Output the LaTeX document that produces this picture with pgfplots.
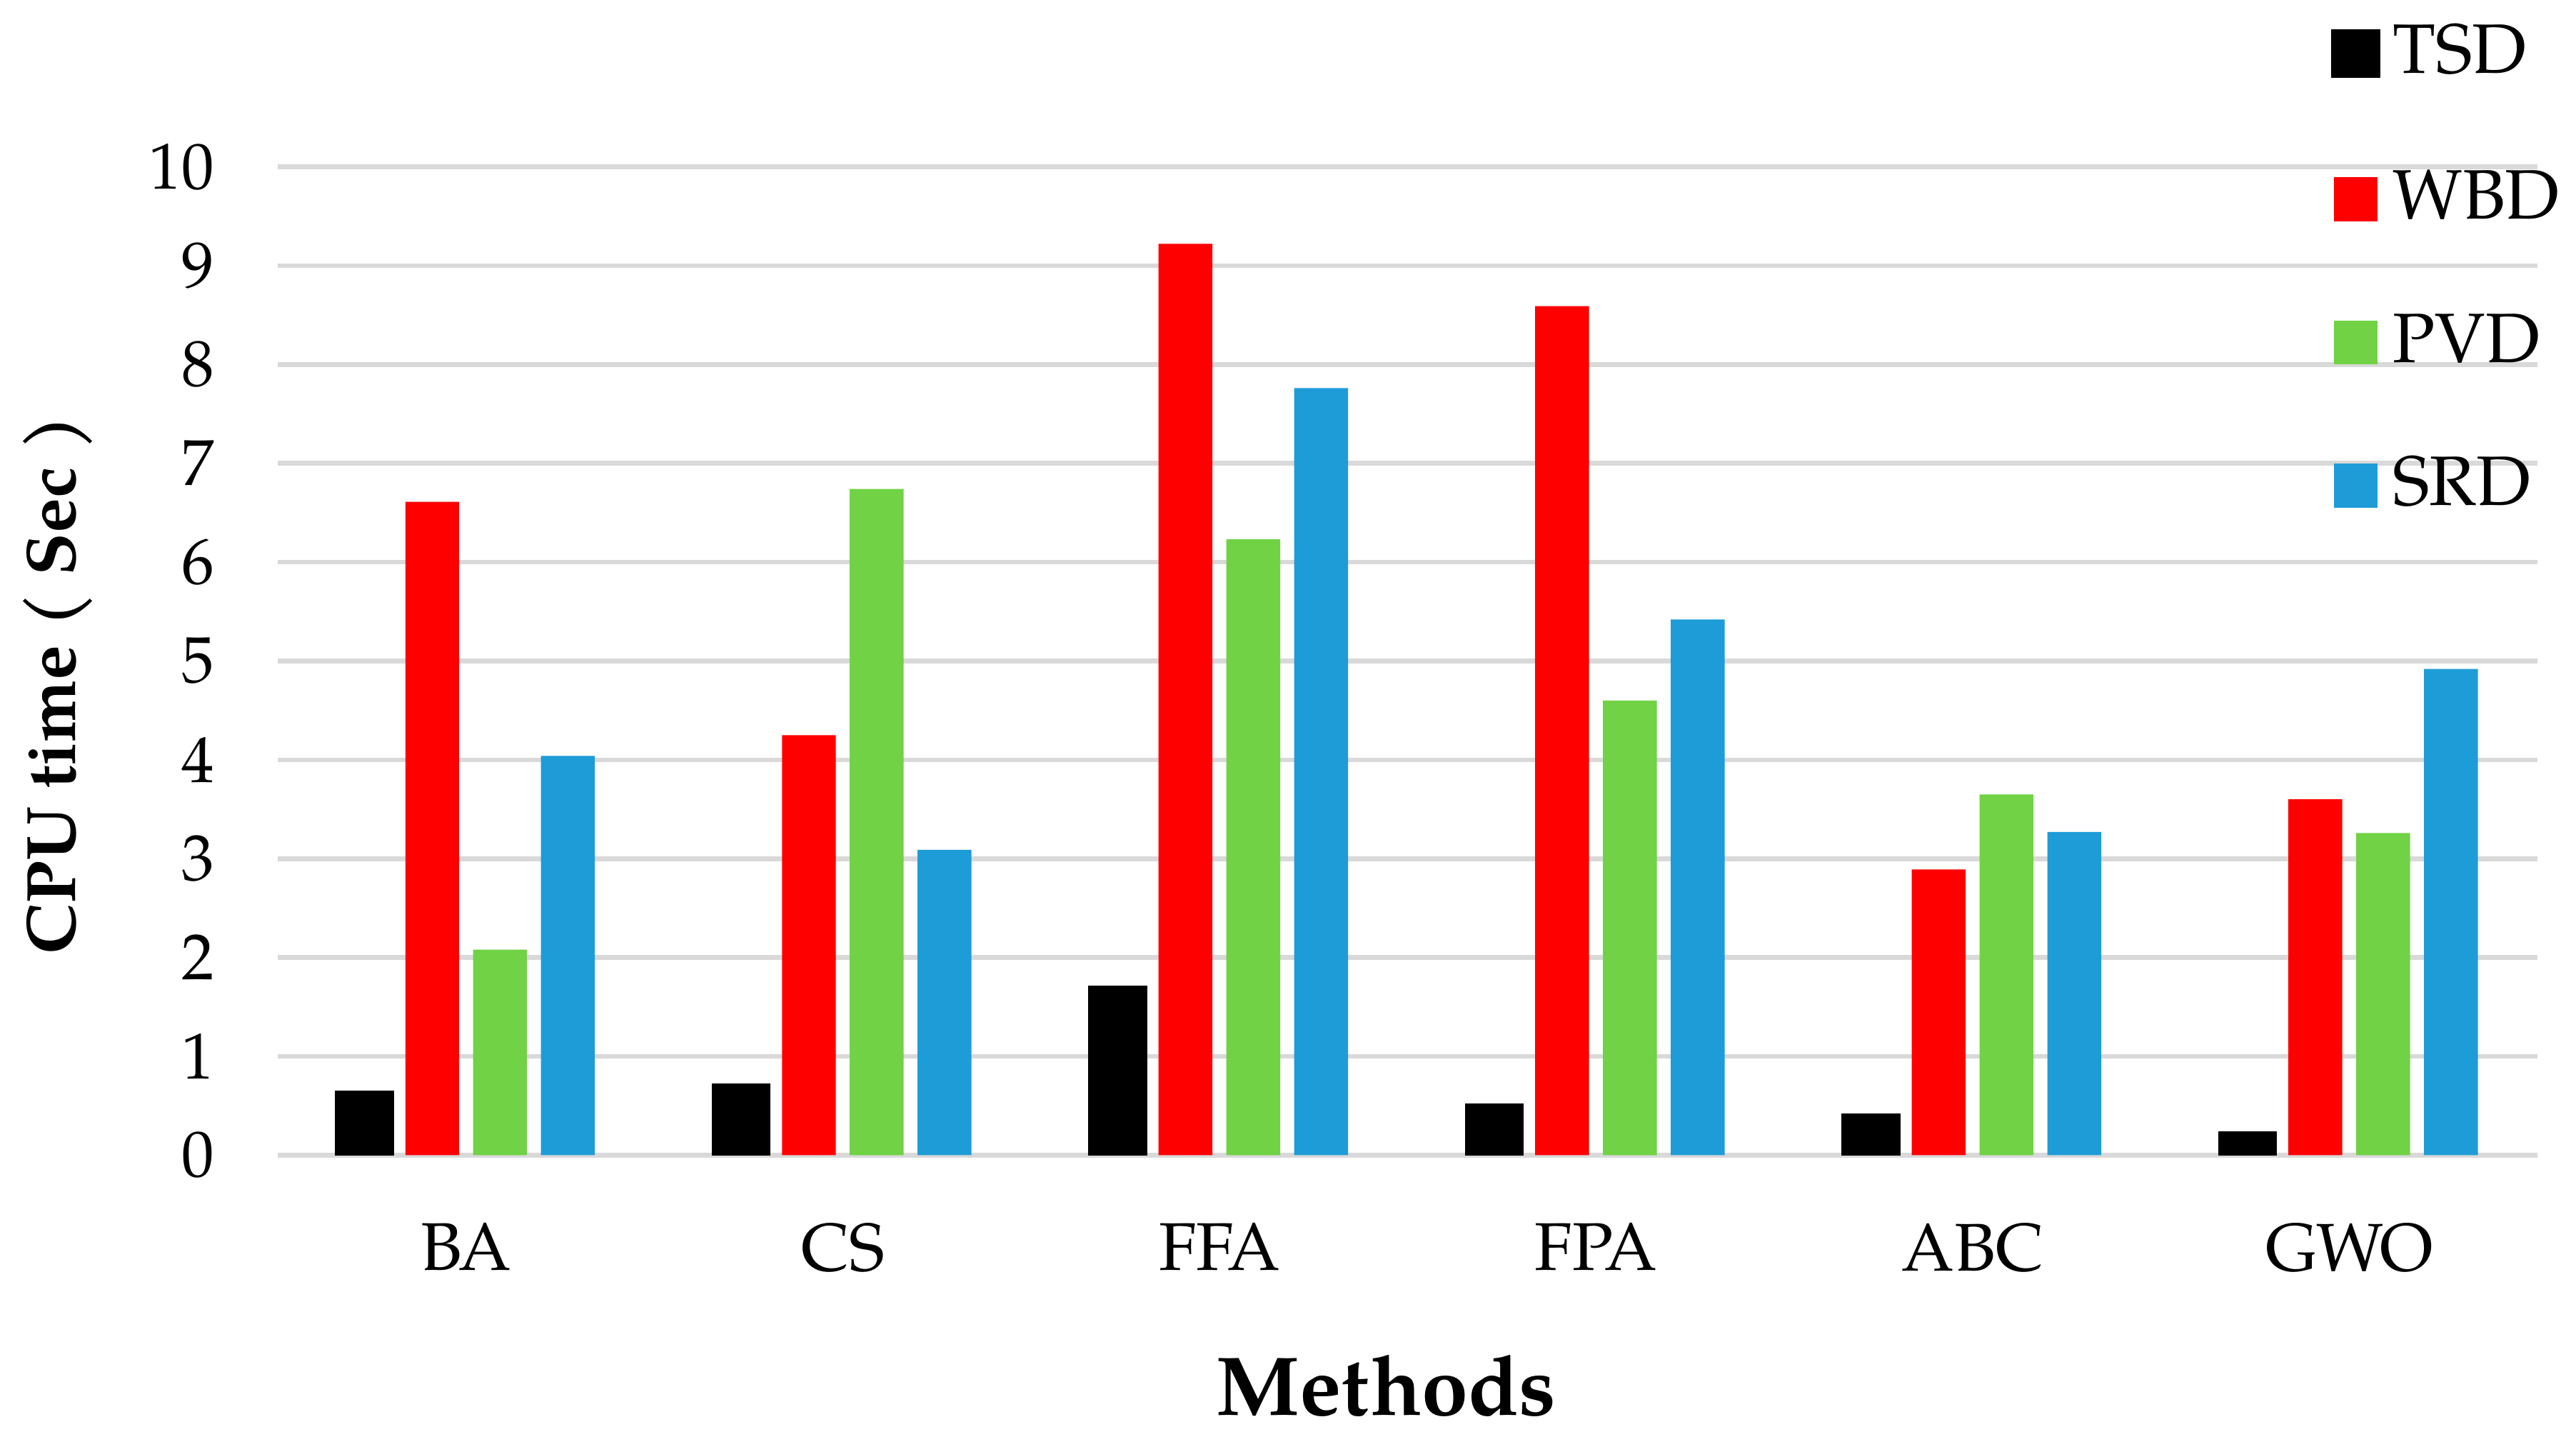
\documentclass[border=0pt]{standalone}
\usepackage{fontspec}
\setmainfont{TeX Gyre Pagella}
\usepackage{pgfplots}
\pgfplotsset{compat=1.18}
\definecolor{cTSD}{HTML}{000000}
\definecolor{cWBD}{HTML}{FF0000}
\definecolor{cPVD}{HTML}{70D244}
\definecolor{cSRD}{HTML}{1E9CD7}
\definecolor{gridgray}{HTML}{D9D9D9}
\pgfplotsset{sq legend/.style={legend image code/.code={\path[##1] (0pt,-5.3pt) rectangle (8.8pt,3.5pt);}}}
\begin{document}
\begin{tikzpicture}
\begin{axis}[
  name=ax, anchor=south west, at={(0,0)},
  width=452.1pt, height=197.7pt, scale only axis,
  xmin=-0.5, xmax=5.5, ymin=0, ymax=10,
  xtick={0,...,5}, xticklabels={BA,CS,FFA,FPA,ABC,GWO},
  ytick={0,...,10},
  axis line style={draw=none}, tick style={draw=none},
  ymajorgrids, grid style={draw=gridgray, line width=0.95pt},
  yticklabel style={font=\fontsize{13}{15}\selectfont, xshift=-9.24pt},
  xticklabel style={font=\fontsize{13.5}{16}\selectfont, yshift=-10pt},
  /pgf/number format/assume math mode=true,
  xlabel={Methods},
  xlabel style={font=\fontsize{16.7}{20}\selectfont\bfseries, inner sep=0pt, at={(axis description cs:0.4905,0)}, anchor=base, yshift=-52pt},
  ylabel={CPU time ( Sec )},
  ylabel style={font=\fontsize{14}{17}\selectfont\bfseries, inner sep=0pt, at={(axis description cs:-0.0895,0.476)}, anchor=base},
  legend style={draw=none, fill=none, at={(0.9082,1.1447)}, anchor=north west, inner sep=0pt,
    row sep=18.5pt, column sep=2.5pt, font=\fontsize{14}{17}\selectfont,
    nodes={inner sep=0pt, text height=9.7pt, text depth=0pt}},
  legend cell align=left,
]
\addplot[ybar, bar width=0.143, bar shift=-0.27, fill=cTSD, draw=cTSD, line width=1pt, sq legend] coordinates {(0,0.63) (1,0.70) (2,1.69) (3,0.50) (4,0.40) (5,0.22)};
\addplot[ybar, bar width=0.143, bar shift=-0.09, fill=cWBD, draw=none, sq legend] coordinates {(0,6.61) (1,4.25) (2,9.22) (3,8.59) (4,2.89) (5,3.60)};
\addplot[ybar, bar width=0.143, bar shift=0.09, fill=cPVD, draw=none, sq legend] coordinates {(0,2.08) (1,6.74) (2,6.23) (3,4.60) (4,3.65) (5,3.26)};
\addplot[ybar, bar width=0.143, bar shift=0.27, fill=cSRD, draw=none, sq legend] coordinates {(0,4.04) (1,3.09) (2,7.76) (3,5.42) (4,3.27) (5,4.92)};
\legend{TSD,WBD,PVD,SRD}
\end{axis}
\pgfresetboundingbox
\path (-55.6pt,-55.24pt) rectangle (459.8pt,231.05pt);
\end{tikzpicture}
\end{document}
